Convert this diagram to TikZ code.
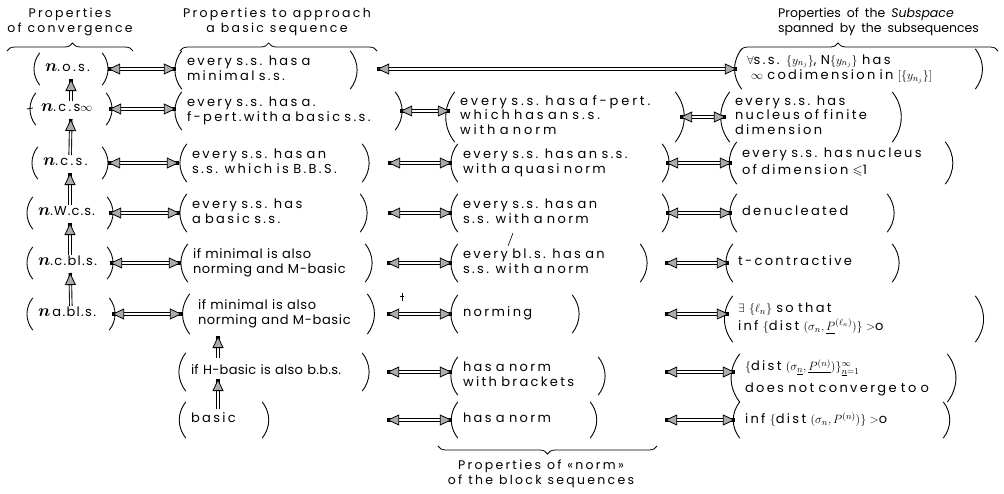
\documentclass[tikz,border=0pt]{standalone}
\usepackage{amssymb}
\usepackage{bm}
\usepackage{fontspec}
\setmainfont{Poppins}[LetterSpace=18]
\usetikzlibrary{arrows.meta,decorations.pathreplacing}
\newcommand\ls[1]{\begin{tabular}{@{}l@{}}#1\end{tabular}}
\newcommand\nn{{\fontsize{17}{17}\selectfont$\bm{n}$}}
\newcommand\lsp[1]{\addfontfeatures{LetterSpace=#1}}
\newcommand\setws[1]{\spaceskip=#1\relax}
\newcommand\parennode[6]{%
  \pgfmathsetmacro\tw{#3-#2-10}%
  \pgfmathsetmacro\cx{(#2+#3)/2}%
  \node[txt,text width=\tw pt,minimum height=#5pt] (#1) at (\cx,#4) {\ls{#6}};
  \draw[prn] (#1.north west) to[bend right=38] (#1.south west);
  \draw[prn] (#1.north east) to[bend left=38] (#1.south east);}
\begin{document}
\begin{tikzpicture}[x=1pt,y=-1pt,
  >={Triangle[length=12pt,width=11pt,fill=gray!65,color=black,line width=0.8pt 0 0]},
  txt/.style={align=left,inner xsep=5pt,inner ysep=0pt,font=\fontsize{13}{14.5}\selectfont\setws{6.5pt}},
  hd/.style={inner sep=0pt,font=\fontsize{12.5}{15}\selectfont\setws{6pt}},
  dbl/.style={draw=white,line width=1.6pt,<->,shorten <=6pt,shorten >=6pt,
    preaction={draw=black,line width=3.4pt,-}},
  upar/.style={draw=white,line width=1.6pt,->,preaction={draw=black,line width=3.4pt,-}},
  prn/.style={line width=0.9pt},
  brc/.style={decorate,line width=0.8pt}]
\useasboundingbox (0,0) rectangle (1004,493);

% headers
\node[hd,align=center] (h1) at (70,22) {Properties\\of convergence};
\node[hd,align=center] (h2) at (277,22) {Properties to approach\\a basic sequence};
\node[hd,align=left,anchor=west] (h3) at (778,22) {\lsp{0}Properties of the \textit{Subspace}\\\lsp{0}spanned by the subsequences};
\node[hd,align=center] (h4) at (541,474) {Properties of «norm»\\of the block sequences};
\draw[brc,decoration={brace,amplitude=8pt,aspect=0.52}] (7,51) -- (133,51);
\draw[brc,decoration={brace,amplitude=8pt,aspect=0.45}] (180,51) -- (377,51);
\draw[brc,decoration={brace,amplitude=8pt,aspect=0.38}] (740,51) -- (998,51);
\draw[brc,decoration={brace,amplitude=8pt,aspect=0.5}] (657,446) -- (438,446);

% column 1
\parennode{c1r1}{40}{102}{69}{32}{\nn.o.s.}
\parennode{c1r2}{36}{106}{109}{32}{\nn.c.s$\infty$}
\parennode{c1r3}{38}{102}{163}{32}{\nn.c.s.}
\parennode{c1r4}{33}{107}{213}{32}{\lsp{8}\nn.W.c.s.}
\parennode{c1r5}{33}{107}{263}{32}{\lsp{10}\nn.c.bl.s.}
\parennode{c1r6}{33}{109}{314}{32}{\lsp{10}\nn\,a.bl.s.}

% column 2
\parennode{c2r1}{182}{350}{70}{38}{every s.s. has a\\minimal s.s.}
\parennode{c2r2}{182}{395}{111}{38}{every s.s. has a.\\f-pert.with a basic s.s.}
\parennode{c2r3}{187}{362}{163}{38}{every s.s. has an\\s.s. which is B.B.S.}
\parennode{c2r4}{187}{360}{213}{38}{every s.s. has\\a basic s.s.}
\parennode{c2r5}{188}{365}{263}{38}{\lsp{5}if minimal is also\\\lsp{5}norming and M-basic}
\parennode{c2r6}{190}{367}{314}{40}{\lsp{5}\hspace*{3pt}if minimal is also\\\lsp{5}\hspace*{3pt}norming and M-basic}
\parennode{c2r7}{186}{362}{372}{38}{\lsp{2}if H-basic is also b.b.s.}
\parennode{c2r8}{186}{262}{420}{36}{basic}

% column 3
\parennode{c3r2}{455}{675}{117}{50}{\lsp{22}every s.s. has a f-pert.\\\lsp{22}which has an s.s.\\\lsp{22}with a norm}
\parennode{c3r3}{458}{662}{163}{38}{every s.s. has an s.s.\\with a quasi norm}
\parennode{c3r4}{458}{662}{213}{38}{every s.s. has an\\s.s. with a norm}
\parennode{c3r5}{458}{640}{263}{38}{every bl.s. has an\\s.s. with a norm}
\parennode{c3r6}{458}{572}{314}{38}{norming}
\parennode{c3r7}{458}{598}{376}{38}{has a norm\\with brackets}
\parennode{c3r8}{458}{590}{420}{36}{has a norm}

% column 4
\parennode{c4r1}{742}{975}{69}{40}{$\forall$s.s. $\{y_{n_j}\}$, N$\{y_{n_j}\}$ has\\[1pt]\hspace*{4pt}$\infty$ codimension in $[\{y_{n_j}\}]$}
\parennode{c4r2}{730}{892}{117}{50}{every s.s. has\\nucleus of finite\\dimension}
\parennode{c4r3}{737}{945}{163}{42}{every s.s. has nucleus\\[2pt]of dimension $\leqslant$1}
\parennode{c4r4}{737}{887}{213}{38}{denucleated}
\parennode{c4r5}{733}{892}{263}{38}{t-contractive}
\parennode{c4r6}{733}{975}{319}{46}{$\exists$ $\{\ell_n\}$ so that\\[2pt]inf $\{$dist $(\sigma_n,\underline{P}^{(\ell_n)})\}>$o}
\parennode{c4r7}{740}{947}{378}{48}{$\{$dist $(\sigma_{\underline{n}},\underline{P^{(n)}})\}^{\infty}_{\underline{n}=1}$\\[7pt]does not converge to o}
\parennode{c4r8}{740}{943}{420}{36}{inf $\bigl\{$dist $(\sigma_n,P^{(n)})\bigr\}>$o}

% small marks
\draw[line width=0.8pt] ([xshift=-9pt]c1r2.west) -- ([xshift=-3pt,yshift=1pt]c1r2.west);
\draw[line width=0.6pt] (513,233) -- (508,246);
\draw[line width=0.6pt] (402,293) -- (402,301) (400,296) -- (404,296);

% horizontal arrows
\draw[dbl] (c1r1) -- (c2r1.west |- c1r1);
\draw[dbl,shorten <=27pt,shorten >=5pt] (c2r1.east |- c4r1) -- (c4r1);
\draw[dbl,shorten <=3pt] (c1r2) -- (c2r2.west |- c1r2);
\draw[dbl,shorten <=5pt,shorten >=5pt] (c2r2) -- (c3r2.west |- c2r2);
\draw[dbl,shorten <=5pt,shorten >=4pt] (c3r2) -- (c4r2);
\draw[dbl,shorten >=8pt] (c1r3) -- (c2r3);
\draw[dbl,shorten <=26pt] (c2r3) -- (c3r3);
\draw[dbl,shorten <=4pt,shorten >=5pt] (c3r3) -- (c4r3);
\draw[dbl,shorten <=2pt,shorten >=7pt] (c1r4) -- (c2r4);
\draw[dbl,shorten <=28pt] (c2r4) -- (c3r4);
\draw[dbl,shorten <=4pt,shorten >=5pt] (c3r4) -- (c4r4);
\draw[dbl,shorten <=3pt,shorten >=7pt] (c1r5) -- (c2r5);
\draw[dbl,shorten <=22pt] (c2r5) -- (c3r5);
\draw[dbl,shorten <=25pt,shorten >=4pt] (c3r5) -- (c4r5);
\draw[dbl,shorten <=3pt,shorten >=8pt] (c1r6) -- (c2r6);
\draw[dbl,shorten <=20pt] (c2r6) -- (c3r6);
\draw[dbl,shorten <=93pt,shorten >=4pt] (c3r6) -- (c4r6.west |- c3r6);
\draw[dbl,shorten <=25pt] (c2r7) -- (c3r7.west |- c2r7);
\draw[dbl,shorten <=67pt,shorten >=5pt] (c3r7.east |- c2r7) -- (c4r7.west |- c2r7);
\draw[dbl,shorten <=125pt] (c2r8) -- (c3r8);
\draw[dbl,shorten <=75pt,shorten >=5pt] (c3r8) -- (c4r8);

% vertical arrows
\draw[upar,shorten <=8pt,shorten >=10pt] (c1r2.center) -- (c1r1.center);
\draw[upar,shorten <=8pt,shorten >=10pt] (c1r3.center) -- (c1r2.center);
\draw[upar,shorten <=8pt,shorten >=10pt] (c1r4.center) -- (c1r3.center);
\draw[upar,shorten <=8pt,shorten >=10pt] (c1r5.center) -- (c1r4.center);
\draw[upar,shorten <=8pt,shorten >=10pt] (c1r6.center) -- (c1r5.center);
\coordinate (vx) at (218,0);
\draw[upar,shorten <=14pt,shorten >=22pt] (c2r7.center -| vx) -- (c2r6.center -| vx);
\draw[upar,shorten <=11pt,shorten >=7pt] (c2r8.center -| vx) -- (c2r7.center -| vx);
\end{tikzpicture}
\end{document}
